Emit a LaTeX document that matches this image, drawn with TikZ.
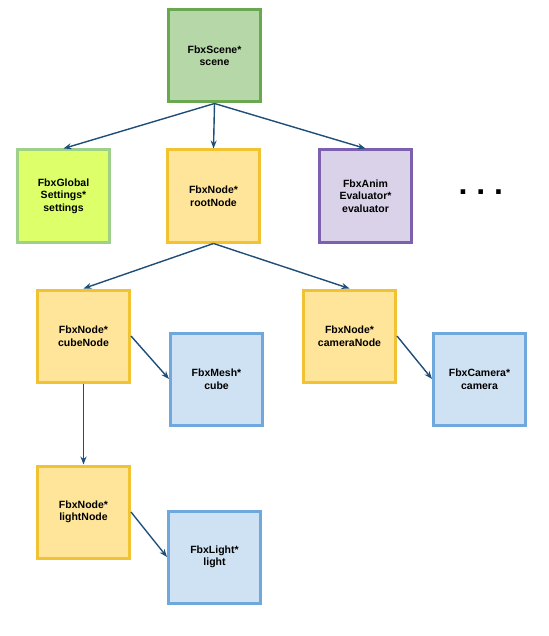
\documentclass[tikz,border=0pt]{standalone}
\usepackage{fontspec}
\setmainfont{Liberation Sans}
\usepackage{tikz}
\usetikzlibrary{positioning}
\usetikzlibrary{shapes,arrows,arrows.meta}

\definecolor{sceneFill}{HTML}{B6D7A8}
\definecolor{sceneLine}{HTML}{6AA84F}
\definecolor{settingsFill}{HTML}{DDFF6A}
\definecolor{settingsLine}{HTML}{9FD08A}
\definecolor{nodeFill}{HTML}{FFE599}
\definecolor{nodeLine}{HTML}{F1C232}
\definecolor{evalFill}{HTML}{D9D2E9}
\definecolor{evalLine}{HTML}{7D5FAF}
\definecolor{attrFill}{HTML}{CFE2F3}
\definecolor{attrLine}{HTML}{6FA8DC}
\definecolor{arrowBlue}{HTML}{1F4E79}

\begin{document}
\begin{tikzpicture} [>={Stealth[length=8pt,width=6pt]}, x=1pt, y=1pt]
            % Set primary nodes
            \tikzset{
                box/.style={
                        rectangle,
                        draw,
                        line width=3pt,
                        minimum size=92pt,
                        align=center,
                        font=\bfseries\fontsize{10.5}{12.5}\selectfont
                    }
            }
            \tikzset{
                sceneNode/.style={
                        box,
                        draw=sceneLine,
                        fill=sceneFill
                    }
            }
            \tikzset{
                settingsNode/.style={
                        box,
                        draw=settingsLine,
                        fill=settingsFill
                    }
            }
            \tikzset{
                fbxNode/.style={
                        box,
                        draw=nodeLine,
                        fill=nodeFill
                    }
            }
            \tikzset{
                evaluatorNode/.style={
                        box,
                        draw=evalLine,
                        fill=evalFill
                    }
            }
            \tikzset{
                attrNode/.style={
                        box,
                        draw=attrLine,
                        fill=attrFill
                    }
            }
            % Configure arrows
            \tikzstyle{arrow} = [->, line width=1.4pt, draw=arrowBlue, fill=arrowBlue]
            \useasboundingbox (0,0) rectangle (548,-636);
            % Placing nodes
            \node[sceneNode] at (214.5,-56) (scene){FbxScene*\\scene};
            \node[fbxNode, below = 45pt of scene, xshift = -1pt](root){FbxNode*\\rootNode};
            \node[settingsNode, left = 55pt of root](settings){FbxGlobal\\Settings*\\settings};
            \node[evaluatorNode, right = 57pt of root](evaluator){FbxAnim\\Evaluator*\\evaluator};
            \node[right = 42pt of evaluator, yshift = 4pt, font=\bfseries\fontsize{32}{32}\selectfont](more){.\ .\ .};
            \node[fbxNode, below = 45pt of root, xshift = -130pt](cube){FbxNode*\\cubeNode};
            \node[fbxNode, below = 45pt of root, xshift = 136pt](camNode){FbxNode*\\cameraNode};
            \node[attrNode, right = 38pt of cube, yshift = -43pt](mesh){FbxMesh*\\cube};
            \node[attrNode, right = 35pt of camNode, yshift = -43pt](camera){FbxCamera*\\camera};
            \node[fbxNode, below = 81pt of cube](lightNode){FbxNode*\\lightNode};
            \node[attrNode, right = 36pt of lightNode, yshift = -45pt](light){FbxLight*\\light};
            % Draw arrows
            \draw[arrow](scene.south) -- (settings.north);
            \draw[arrow](scene.south) -- (root.north);
            \draw[arrow](scene.south) -- (evaluator.north);
            \draw[arrow](root.south) -- (cube.north);
            \draw[arrow](root.south) -- (camNode.north);
            \draw[arrow](cube.east) -- (mesh.west);
            \draw[arrow](camNode.east) -- (camera.west);
            \draw[arrow](cube.south) -- (lightNode.north);
            \draw[arrow](lightNode.east) -- (light.west);
        \end{tikzpicture}
\end{document}
